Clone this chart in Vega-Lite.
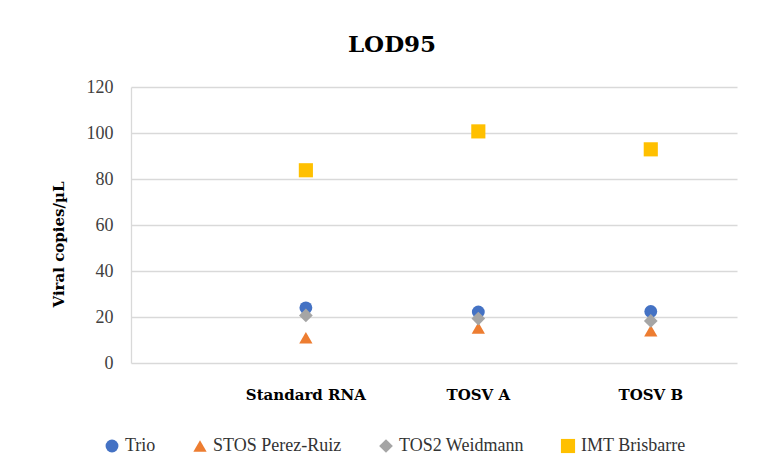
{
  "$schema": "https://vega.github.io/schema/vega-lite/v6.json",
  "width": 606,
  "height": 276,
  "autosize": {"type": "none"},
  "padding": {"left": 131, "top": 87, "right": 21, "bottom": 111},
  "background": "white",
  "title": {
    "text": "LOD95",
    "font": "DejaVu Serif",
    "fontSize": 23,
    "fontWeight": "bold",
    "color": "#000000",
    "anchor": "middle",
    "dx": -42,
    "offset": 21
  },
  "data": {
    "values": [
      {"sample": "Standard RNA", "series": "Trio", "value": 24},
      {"sample": "Standard RNA", "series": "STOS Perez-Ruiz", "value": 11},
      {"sample": "Standard RNA", "series": "TOS2 Weidmann", "value": 20.7},
      {"sample": "Standard RNA", "series": "IMT Brisbarre", "value": 83.8},
      {"sample": "TOSV A", "series": "Trio", "value": 22.2},
      {"sample": "TOSV A", "series": "STOS Perez-Ruiz", "value": 15.2},
      {"sample": "TOSV A", "series": "TOS2 Weidmann", "value": 19.3},
      {"sample": "TOSV A", "series": "IMT Brisbarre", "value": 100.7},
      {"sample": "TOSV B", "series": "Trio", "value": 22.4},
      {"sample": "TOSV B", "series": "STOS Perez-Ruiz", "value": 14},
      {"sample": "TOSV B", "series": "TOS2 Weidmann", "value": 18.3},
      {"sample": "TOSV B", "series": "IMT Brisbarre", "value": 92.9}
    ]
  },
  "mark": {"type": "point", "filled": true, "opacity": 1},
  "encoding": {
    "x": {
      "field": "sample",
      "type": "nominal",
      "sort": null,
      "scale": {"type": "band", "paddingInner": 0, "paddingOuter": 0.257, "align": 1},
      "axis": {
        "title": null,
        "labelAngle": 0,
        "domain": false,
        "ticks": false,
        "grid": false,
        "labelFont": "DejaVu Serif",
        "labelFontSize": 15,
        "labelFontWeight": "bold",
        "labelColor": "#000000",
        "labelPadding": 24
      }
    },
    "y": {
      "field": "value",
      "type": "quantitative",
      "scale": {"domain": [0, 120], "nice": false},
      "axis": {
        "title": "Viral copies/µL",
        "titleFont": "DejaVu Serif",
        "titleFontSize": 15,
        "titleFontWeight": "bold",
        "titleColor": "#000000",
        "titleX": -73,
        "titleY": 157,
        "titleAngle": -90,
        "titleBaseline": "middle",
        "titleAlign": "center",
        "values": [0, 20, 40, 60, 80, 100, 120],
        "ticks": false,
        "domain": true,
        "domainColor": "#d9d9d9",
        "domainWidth": 1.3,
        "grid": true,
        "gridColor": "#d9d9d9",
        "gridWidth": 1.3,
        "labelFont": "Liberation Serif",
        "labelFontSize": 18,
        "labelColor": "#404040",
        "labelPadding": 18
      }
    },
    "color": {
      "field": "series",
      "type": "nominal",
      "scale": {
        "domain": ["Trio", "STOS Perez-Ruiz", "TOS2 Weidmann", "IMT Brisbarre"],
        "range": ["#4472C4", "#ED7D31", "#A5A5A5", "#FFC000"]
      },
      "legend": {
        "title": null,
        "orient": "none",
        "direction": "horizontal",
        "legendX": -28,
        "legendY": 350
      }
    },
    "shape": {
      "field": "series",
      "type": "nominal",
      "scale": {
        "domain": ["Trio", "STOS Perez-Ruiz", "TOS2 Weidmann", "IMT Brisbarre"],
        "range": ["circle", "triangle-up", "diamond", "square"]
      },
      "legend": {
        "title": null,
        "orient": "none",
        "direction": "horizontal",
        "legendX": -28,
        "legendY": 350
      }
    },
    "size": {
      "field": "series",
      "type": "nominal",
      "scale": {
        "domain": ["Trio", "STOS Perez-Ruiz", "TOS2 Weidmann", "IMT Brisbarre"],
        "range": [165, 200, 130, 200]
      },
      "legend": null
    }
  },
  "config": {
    "font": "Liberation Serif",
    "view": {"stroke": null},
    "legend": {
      "labelFont": "Liberation Serif",
      "labelFontSize": 18,
      "labelColor": "#333333",
      "symbolSize": 110,
      "labelOffset": 4,
      "columnPadding": 35,
      "symbolStrokeWidth": 0
    }
  }
}
